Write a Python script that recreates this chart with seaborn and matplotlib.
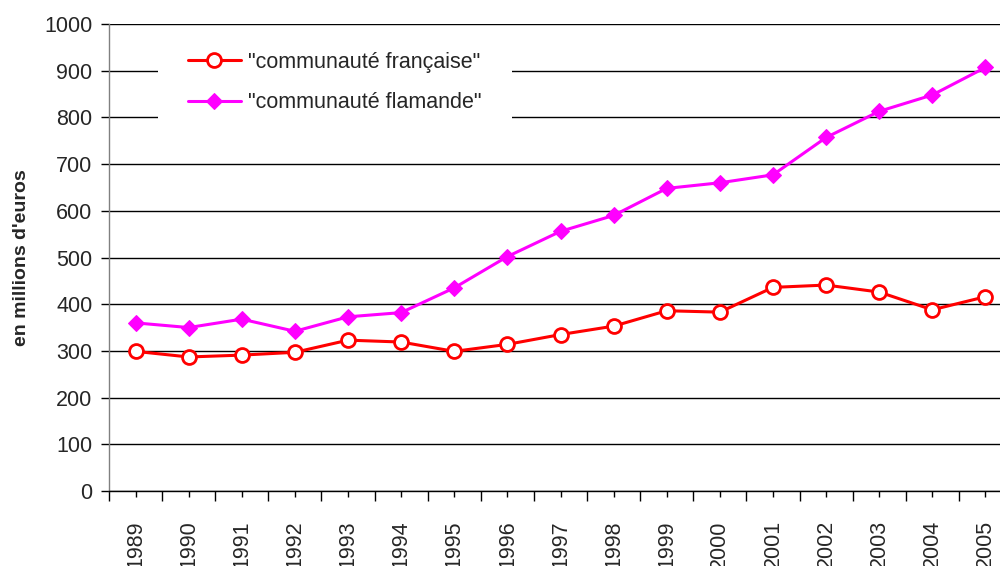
import matplotlib
matplotlib.use("Agg")
import matplotlib.pyplot as plt
import seaborn as sns
import pandas as pd
import numpy as np
from matplotlib.ticker import FixedLocator, MultipleLocator
from matplotlib.patches import Rectangle

years = [str(y) for y in range(1989, 2006)]
francaise = [299, 287, 291, 297, 323, 319, 299, 314, 335, 353, 386, 383, 436, 441, 426, 388, 416]
flamande = [360, 350, 368, 342, 373, 382, 435, 502, 556, 590, 648, 660, 677, 757, 813, 848, 907]
series_names = ['"communauté française"', '"communauté flamande"']

sns.set_theme(style="white")
plt.rcParams['font.family'] = ['Liberation Sans', 'DejaVu Sans']

idx = np.arange(len(years))
df = pd.concat([
    pd.DataFrame({"x": idx, "value": francaise, "serie": series_names[0]}),
    pd.DataFrame({"x": idx, "value": flamande, "serie": series_names[1]}),
])

fig = plt.figure(figsize=(10, 5.66), dpi=100)
ax = fig.add_axes([0.109, 1 - 491 / 566, 0.903, (491 - 24) / 566])

ax.yaxis.grid(True, color="black", linewidth=1)
ax.set_axisbelow(True)

sns.lineplot(data=df[df.serie == series_names[0]], x="x", y="value", ax=ax,
             color="#ff0000", linewidth=2.2, marker="o", markersize=10,
             markerfacecolor="white", markeredgecolor="#ff0000", markeredgewidth=2,
             label=series_names[0], zorder=3)
sns.lineplot(data=df[df.serie == series_names[1]], x="x", y="value", ax=ax,
             color="#ff00ff", linewidth=2.2, marker="D", markersize=8,
             markerfacecolor="#ff00ff", markeredgecolor="#ff00ff",
             label=series_names[1], zorder=3)

ax.set_xlim(-0.5, len(years) - 0.5)
ax.set_ylim(0, 1000)
ax.yaxis.set_major_locator(MultipleLocator(100))
ax.set_xticks(idx)
ax.set_xticklabels(years, rotation=90, fontsize=15.5)
ax.xaxis.set_minor_locator(FixedLocator(np.arange(-0.5, len(years), 1.0)))
ax.tick_params(axis="x", which="major", length=4, width=1, color="black", bottom=True, pad=17)
ax.tick_params(axis="x", which="minor", length=7, width=1, color="black", bottom=True)
ax.tick_params(axis="y", which="major", length=6, width=1, color="black", left=True, labelsize=15.5, pad=6)

for lbl in ax.get_xticklabels():
    lbl.set_va("top")

ax.set_xlabel("")
ax.set_ylabel("en millions d'euros", fontsize=14, fontweight="bold")
ax.yaxis.set_label_coords(-0.088, 0.5)

for s in ["top", "right"]:
    ax.spines[s].set_visible(False)
ax.spines["left"].set_color("#808080")
ax.spines["left"].set_linewidth(1)
ax.spines["bottom"].set_color("black")
ax.spines["bottom"].set_linewidth(1)

# white legend area hiding the gridlines
bg = Rectangle((158 / 1000, 1 - 132 / 566), (512 - 158) / 1000, (132 - 42) / 566,
               transform=fig.transFigure, facecolor="white", edgecolor="none",
               zorder=1, clip_on=False)
ax.add_patch(bg)

leg = ax.legend(loc="upper left", bbox_to_anchor=(188 / 1000, 1 - 52 / 566),
                bbox_transform=fig.transFigure, frameon=False,
                fontsize=15.5, handlelength=2.45, handletextpad=0.33,
                labelspacing=0.9, borderpad=0, borderaxespad=0)

fig.savefig("out.png", dpi=100)
